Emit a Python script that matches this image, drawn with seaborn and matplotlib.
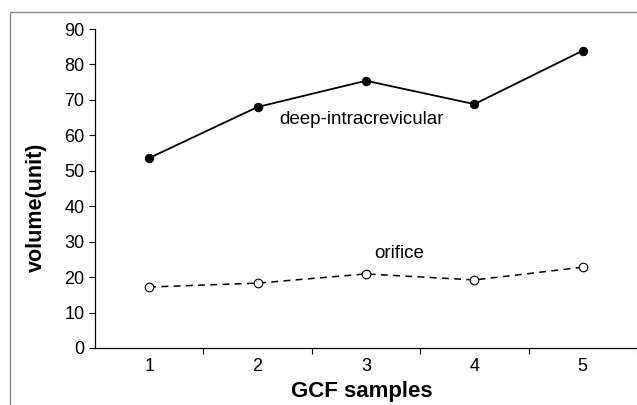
import matplotlib
matplotlib.use("Agg")
import matplotlib.pyplot as plt
import seaborn as sns
import numpy as np
from matplotlib.patches import Rectangle

samples = [1, 2, 3, 4, 5]
deep_intracrevicular = [53.6, 68.0, 75.4, 68.8, 83.9]
orifice = [17.2, 18.3, 20.9, 19.2, 22.8]
y_ticks = [0, 10, 20, 30, 40, 50, 60, 70, 80, 90]

sns.set_theme(style="white")
plt.rcParams['font.family'] = ['Liberation Sans', 'DejaVu Sans']
plt.rcParams['text.color'] = 'black'
plt.rcParams['xtick.color'] = 'black'
plt.rcParams['ytick.color'] = 'black'

fig = plt.figure(figsize=(6.37, 4.05), dpi=100)
ax = fig.add_axes([95/637, 1-348/405, 542/637, (348-29)/405])

sns.lineplot(x=samples, y=deep_intracrevicular, ax=ax, color='black', lw=1.3,
             marker='o', markersize=6, markerfacecolor='black',
             markeredgecolor='black')
sns.lineplot(x=samples, y=orifice, ax=ax, color='black', lw=1.1,
             linestyle=(0, (4.5, 3.5)), marker='o', markersize=6.2,
             markerfacecolor='white', markeredgecolor='black',
             markeredgewidth=0.8)

ax.set_xlim(0.5, 5.5)
ax.set_ylim(0, 90)
ax.set_yticks(y_ticks)
ax.set_yticklabels([str(t) for t in y_ticks], fontsize=13)
ax.set_xticks(samples)
ax.set_xticklabels([str(s) for s in samples], fontsize=13)
ax.set_xticks([1.5, 2.5, 3.5, 4.5, 5.5], minor=True)
ax.tick_params(axis='x', which='major', length=0, pad=7.5)
ax.tick_params(axis='x', which='minor', length=4.5, width=0.8, color='black', direction='out', bottom=True)
ax.tick_params(axis='y', length=4.5, width=0.8, color='black', direction='out', left=True, pad=3)

for s in ['top', 'right']:
    ax.spines[s].set_visible(False)
for s in ['left', 'bottom']:
    ax.spines[s].set_color('black')
    ax.spines[s].set_linewidth(0.9)

ax.set_xlabel('')
ax.set_ylabel('')
ax.text(2.197, 63.1, 'deep-intracrevicular', fontsize=13.5, ha='left', va='baseline')
ax.text(3.074, 25.5, 'orifice', fontsize=13.5, ha='left', va='baseline')

fig.text(362/637, 1-391/405, 'GCF samples', fontsize=16, fontweight='bold',
         ha='center', va='center')
fig.text(36.5/637, 1-207.5/405, 'volume(unit)', fontsize=15.5, fontweight='bold',
         ha='center', va='center', rotation=90)

fig.patches.append(Rectangle((10/637, -0.1), 1.2, 1-12/405+0.1, transform=fig.transFigure,
                             fill=False, edgecolor='#888888', linewidth=1.0))

fig.savefig('out.png', dpi=100)
